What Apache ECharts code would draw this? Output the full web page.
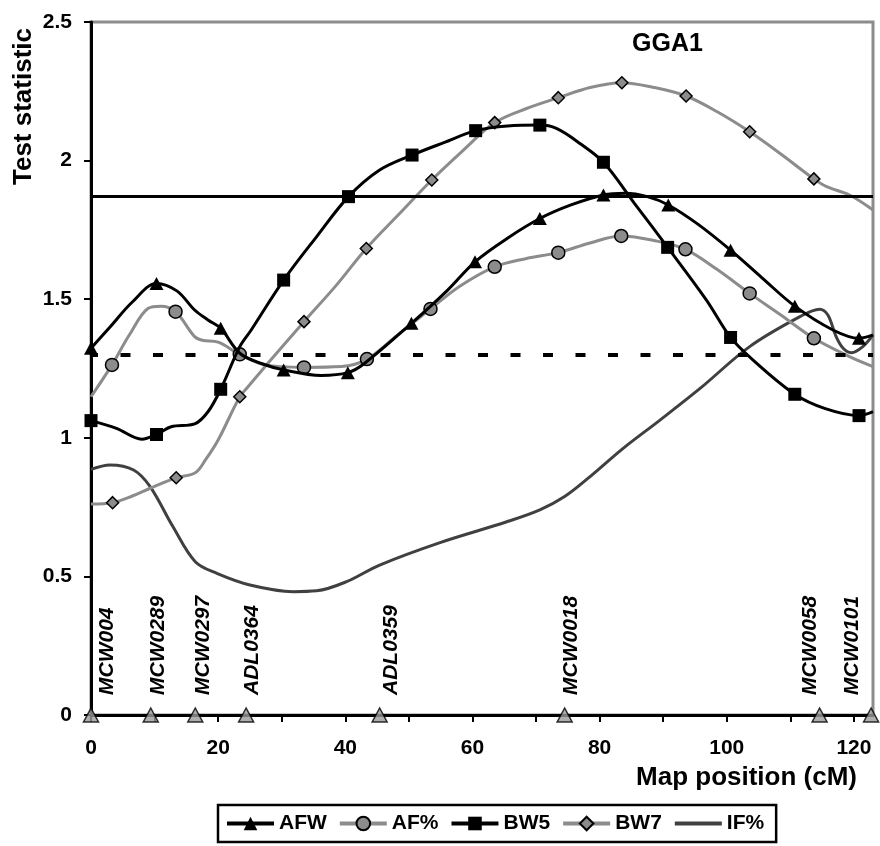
<!DOCTYPE html>
<html><head><meta charset="utf-8">
<script src="https://cdn.jsdelivr.net/npm/echarts@6/dist/echarts.min.js"></script>
<style>html,body{margin:0;padding:0;background:#fff}#c{width:880px;height:846px}</style>
</head><body><div id="c"></div>
<script>
// ---- data ----
const seriesNames = ['AFW', 'AF%', 'BW5', 'BW7', 'IF%'];

const afwX = [0, 3, 6.5, 10.3, 13.5, 16.3, 18.4, 20.4, 23.4, 26.8, 30.3, 36.2, 40.4, 43, 50.4, 56.1, 60.4, 65.5, 70.6, 75.5, 80.6, 84, 87.5, 90.8, 95.5, 100.6, 105.5, 110.7, 116.7, 120.8, 123];
const afwY = [1.323, 1.40, 1.49, 1.557, 1.53, 1.461, 1.425, 1.395, 1.305, 1.268, 1.245, 1.225, 1.235, 1.268, 1.413, 1.533, 1.635, 1.72, 1.791, 1.84, 1.876, 1.882, 1.87, 1.84, 1.77, 1.677, 1.578, 1.475, 1.389, 1.359, 1.371];
const afwMark = [1, 0, 0, 1, 0, 0, 0, 1, 0, 0, 1, 0, 1, 0, 1, 0, 1, 0, 1, 0, 1, 0, 0, 1, 0, 1, 0, 1, 0, 1, 0];

const afpX = [0, 3.3, 6, 9, 11, 13.3, 16.3, 17.5, 20, 23.4, 27.3, 33.5, 39.4, 43.4, 48, 53.4, 58, 63.5, 68.5, 73.5, 78.5, 83.4, 88.5, 93.5, 98.5, 103.6, 108.5, 113.7, 119.3, 123];
const afpY = [1.148, 1.263, 1.37, 1.467, 1.475, 1.455, 1.365, 1.352, 1.345, 1.301, 1.263, 1.254, 1.257, 1.284, 1.367, 1.465, 1.547, 1.617, 1.647, 1.668, 1.703, 1.728, 1.712, 1.68, 1.607, 1.521, 1.443, 1.359, 1.293, 1.257];
const afpMark = [0, 1, 0, 0, 0, 1, 0, 0, 0, 1, 0, 1, 0, 1, 0, 1, 0, 1, 0, 1, 0, 1, 0, 1, 0, 1, 0, 1, 0, 0];

const bw5X = [0, 4, 8, 10.3, 12.6, 16.3, 18.4, 20.4, 23.4, 25.2, 30.3, 35.5, 40.5, 45.4, 50.5, 55.5, 60.5, 65.5, 70.6, 73.2, 76.9, 80.6, 85.5, 90.7, 96.8, 100.6, 104.1, 110.7, 115.5, 120.8, 123];
const bw5Y = [1.062, 1.034, 0.995, 1.012, 1.04, 1.05, 1.094, 1.175, 1.329, 1.389, 1.569, 1.726, 1.87, 1.966, 2.02, 2.065, 2.108, 2.125, 2.128, 2.116, 2.062, 1.994, 1.845, 1.687, 1.497, 1.362, 1.281, 1.157, 1.105, 1.08, 1.094];
const bw5Mark = [1, 0, 0, 1, 0, 0, 0, 1, 0, 0, 1, 0, 1, 0, 1, 0, 1, 0, 1, 0, 0, 1, 0, 1, 0, 1, 0, 1, 0, 1, 0];

const bw7X = [0, 3.4, 6.5, 9.3, 13.4, 16.4, 18, 20, 23.4, 24.7, 28.5, 33.5, 38.5, 43.3, 48.5, 53.6, 58.5, 63.5, 68.5, 73.5, 78.5, 83.5, 88.5, 93.6, 98.5, 103.6, 108.5, 113.7, 115.7, 119.3, 123];
const bw7Y = [0.761, 0.766, 0.79, 0.818, 0.856, 0.874, 0.92, 0.992, 1.148, 1.184, 1.287, 1.419, 1.548, 1.683, 1.808, 1.93, 2.036, 2.137, 2.188, 2.227, 2.264, 2.281, 2.264, 2.233, 2.176, 2.104, 2.024, 1.934, 1.906, 1.876, 1.822];
const bw7Mark = [0, 1, 0, 0, 1, 0, 0, 0, 1, 0, 0, 1, 0, 1, 0, 1, 0, 1, 0, 1, 0, 1, 0, 1, 0, 1, 0, 1, 0, 0, 0];

const ifpX = [0, 3, 6.7, 9.3, 12.9, 16.4, 19.8, 25, 31.8, 35.5, 40.2, 45.4, 54.9, 65.4, 70.6, 74.5, 78.5, 83.7, 89.5, 95.8, 103.6, 111.5, 114.6, 115.9, 117.2, 118.3, 119.6, 121.4, 123];
const ifpY = [0.886, 0.902, 0.884, 0.824, 0.679, 0.553, 0.511, 0.469, 0.445, 0.448, 0.481, 0.541, 0.622, 0.697, 0.74, 0.788, 0.86, 0.962, 1.064, 1.178, 1.329, 1.437, 1.464, 1.443, 1.365, 1.323, 1.307, 1.329, 1.371];

const markerNames = ['MCW004', 'MCW0289', 'MCW0297', 'ADL0364', 'ADL0359', 'MCW0018', 'MCW0058', 'MCW0101'];
const markerPos = [0, 9.4, 16.4, 24.4, 45.4, 74.5, 114.6, 122.7];
const markerLabelPos = [2.5, 10.5, 17.6, 25.3, 47.2, 75.6, 113.2, 119.7];

const thresholds = [1.87, 1.305];
const xTickValues = [0, 10, 20, 30, 40, 50, 60, 70, 80, 90, 100, 110, 120];
const xLabelValues = [0, 20, 40, 60, 80, 100, 120];
const yTickValues = [0, 0.5, 1, 1.5, 2, 2.5];

// ---- build ----
const FONT = "'Liberation Sans', Arial, sans-serif";
function build(xs, ys, marks) {
  return xs.map((x, i) => (marks && marks[i]) ? [x, ys[i]] : { value: [x, ys[i]], symbol: 'none' });
}
const GRAY = '#8c8c8c';
const markerBorder = { borderColor: '#000', borderWidth: 1.5 };

const chart = echarts.init(document.getElementById('c'), null, { renderer: 'canvas' });
chart.setOption({
  animation: false,
  backgroundColor: '#fff',
  title: {
    text: 'GGA1', left: 632, top: 32, padding: 0,
    textStyle: { fontFamily: FONT, fontSize: 25, fontWeight: 'bold', color: '#000' }
  },
  grid: { left: 91, top: 22, right: 7, bottom: 131, show: true, borderColor: GRAY, borderWidth: 3, containLabel: false, outerBoundsMode: 'none' },
  legend: {
    data: seriesNames.map(n => n === 'IF%' ? { name: n, itemStyle: { opacity: 0 } } : { name: n }),
    left: 218, top: 805, orient: 'horizontal',
    itemWidth: 47, itemHeight: 17, itemGap: 11,
    lineStyle: { width: 4 },
    borderColor: '#000', borderWidth: 2.5, padding: [8, 12, 8, 7],
    textStyle: { fontFamily: FONT, fontSize: 21, fontWeight: 'bold', color: '#000' }
  },
  xAxis: {
    type: 'value', min: 0, max: 123,
    name: 'Map position (cM)', nameLocation: 'end', nameGap: -16,
    nameTextStyle: { fontFamily: FONT, fontSize: 26, fontWeight: 'bold', color: '#000', align: 'right', verticalAlign: 'top', padding: [50, 0, 0, 0] },
    axisLine: { show: true, onZero: false, lineStyle: { color: '#000', width: 3 } },
    axisTick: { show: true, inside: false, length: 7, customValues: xTickValues, lineStyle: { color: '#000', width: 2 } },
    axisLabel: { customValues: xLabelValues, margin: 23, fontFamily: FONT, fontSize: 21, fontWeight: 'bold', color: '#000' },
    splitLine: { show: false }
  },
  yAxis: {
    type: 'value', min: 0, max: 2.5, interval: 0.5,
    name: 'Test statistic', nameLocation: 'end', nameRotate: 90, nameGap: -6,
    nameTextStyle: { fontFamily: FONT, fontSize: 26, fontWeight: 'bold', color: '#000', align: 'right', verticalAlign: 'bottom', padding: [0, 0, 54, 0] },
    axisLine: { show: true, onZero: false, lineStyle: { color: '#000', width: 3 } },
    axisTick: { show: true, inside: false, length: 7, customValues: yTickValues, lineStyle: { color: '#000', width: 2 } },
    axisLabel: { customValues: yTickValues, margin: 19, fontFamily: FONT, fontSize: 21, fontWeight: 'bold', color: '#000' },
    splitLine: { show: false }
  },
  series: [
    {
      name: 'thresholds', type: 'line', data: [], z: 1, silent: true,
      markLine: {
        silent: true, symbol: 'none', label: { show: false },
        data: [
          { yAxis: thresholds[0], lineStyle: { color: '#000', width: 3, type: 'solid' } },
          { yAxis: thresholds[1], lineStyle: { color: '#000', width: 4, type: [10, 22.5], dashOffset: 3 } }
        ]
      }
    },
    {
      name: 'IF%', type: 'line', smooth: 0.35, symbol: 'none', z: 2,
      lineStyle: { color: '#404040', width: 3 }, itemStyle: { color: '#404040' },
      data: build(ifpX, ifpY, null)
    },
    {
      name: 'BW7', type: 'line', smooth: 0.35, symbol: 'diamond', symbolSize: 12, showAllSymbol: true, z: 3,
      lineStyle: { color: GRAY, width: 3 }, itemStyle: Object.assign({ color: GRAY }, markerBorder),
      data: build(bw7X, bw7Y, bw7Mark)
    },
    {
      name: 'AF%', type: 'line', smooth: 0.35, symbol: 'circle', symbolSize: 13, showAllSymbol: true, z: 4,
      lineStyle: { color: GRAY, width: 3 }, itemStyle: Object.assign({ color: GRAY }, markerBorder),
      data: build(afpX, afpY, afpMark)
    },
    {
      name: 'BW5', type: 'line', smooth: 0.35, symbol: 'rect', symbolSize: 13, showAllSymbol: true, z: 5,
      lineStyle: { color: '#000', width: 3 }, itemStyle: { color: '#000' },
      data: build(bw5X, bw5Y, bw5Mark)
    },
    {
      name: 'AFW', type: 'line', smooth: 0.35, symbol: 'triangle', symbolSize: [14, 13], showAllSymbol: true, z: 6,
      lineStyle: { color: '#000', width: 3 }, itemStyle: { color: '#000' },
      data: build(afwX, afwY, afwMark)
    },
    {
      name: 'markers', type: 'scatter', symbol: 'triangle', symbolSize: [15, 14], clip: false, z: 7, silent: true,
      itemStyle: { color: '#9a9a9a', borderColor: '#000', borderWidth: 1.5 },
      data: markerPos.map(x => [x, 0])
    },
    {
      name: 'markerLabels', type: 'scatter', symbol: 'circle', symbolSize: 0, clip: false, z: 7, silent: true,
      itemStyle: { color: '#000', opacity: 1 },
      data: markerLabelPos.map((x, i) => ({ value: [x, 0], name: markerNames[i] })),
      label: {
        show: true, formatter: p => p.name, position: [0, -20], rotate: 90,
        align: 'left', verticalAlign: 'middle', opacity: 1,
        fontFamily: FONT, fontSize: 21, fontWeight: 'bold', fontStyle: 'italic', color: '#000'
      }
    }
  ]
});
</script>
</body></html>
